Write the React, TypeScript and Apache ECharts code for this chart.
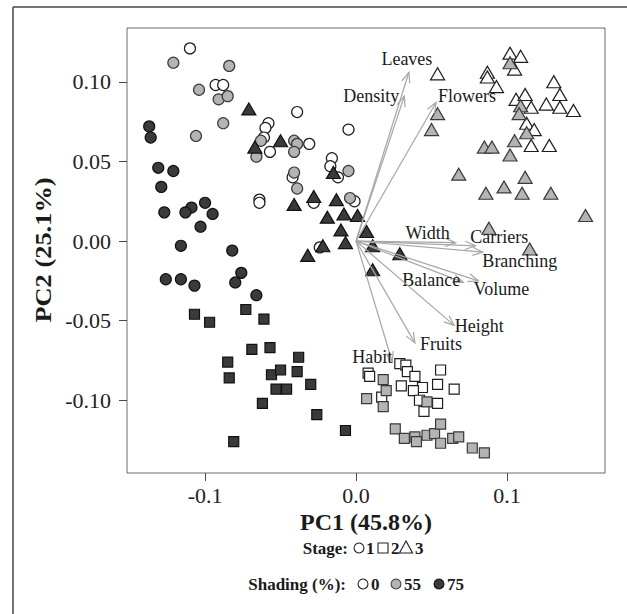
import React, { useEffect, useRef } from "react";
import * as echarts from "echarts";

type P = [number, number];

// ---- Scores (PC1, PC2) by stage and shading ----
const stage1Shade0: P[] = [
  [-0.110, 0.121], [-0.093, 0.098], [-0.088, 0.098], [-0.039, 0.081], [-0.058, 0.074],
  [-0.060, 0.071], [-0.005, 0.070], [-0.061, 0.065], [-0.057, 0.056], [-0.031, 0.061],
  [-0.016, 0.052], [-0.017, 0.047], [-0.012, 0.040], [-0.042, 0.040], [-0.064, 0.026],
  [-0.064, 0.024], [-0.028, 0.024], [-0.001, 0.025], [-0.024, -0.004],
];
const stage1Shade55: P[] = [
  [-0.121, 0.112], [-0.084, 0.110], [-0.104, 0.095], [-0.091, 0.089], [-0.085, 0.091],
  [-0.088, 0.074], [-0.106, 0.066], [-0.063, 0.063], [-0.066, 0.053], [-0.041, 0.063],
  [-0.039, 0.061], [-0.041, 0.056], [-0.005, 0.044], [-0.041, 0.043], [-0.039, 0.033],
  [-0.004, 0.027],
];
const stage1Shade75: P[] = [
  [-0.137, 0.072], [-0.136, 0.065], [-0.131, 0.046], [-0.121, 0.044], [-0.129, 0.034],
  [-0.100, 0.024], [-0.109, 0.021], [-0.113, 0.018], [-0.127, 0.018], [-0.095, 0.017],
  [-0.103, 0.009], [-0.116, -0.003], [-0.082, -0.006], [-0.126, -0.024], [-0.116, -0.024],
  [-0.107, -0.028], [-0.076, -0.020], [-0.080, -0.026], [-0.066, -0.034],
];
const stage2Shade0: P[] = [
  [0.029, -0.077], [0.033, -0.078], [0.034, -0.082], [0.039, -0.085], [0.056, -0.081],
  [0.008, -0.083], [0.009, -0.085], [0.030, -0.091], [0.044, -0.092], [0.054, -0.090],
  [0.065, -0.093], [0.038, -0.094], [0.017, -0.098], [0.042, -0.100], [0.054, -0.102],
  [0.045, -0.107],
];
const stage2Shade55: P[] = [
  [0.018, -0.087], [0.020, -0.094], [0.007, -0.099], [0.047, -0.101], [0.018, -0.104],
  [0.026, -0.118], [0.032, -0.124], [0.039, -0.123], [0.040, -0.126], [0.047, -0.122],
  [0.052, -0.121], [0.056, -0.115], [0.056, -0.127], [0.064, -0.124], [0.068, -0.123],
  [0.077, -0.130], [0.085, -0.133],
];
const stage2Shade75: P[] = [
  [-0.107, -0.046], [-0.097, -0.051], [-0.073, -0.043], [-0.061, -0.049], [-0.069, -0.068],
  [-0.057, -0.067], [-0.038, -0.073], [-0.085, -0.076], [-0.084, -0.086], [-0.056, -0.084],
  [-0.050, -0.081], [-0.039, -0.082], [-0.053, -0.093], [-0.046, -0.093], [-0.030, -0.090],
  [-0.062, -0.102], [-0.026, -0.109], [-0.007, -0.119], [-0.081, -0.126],
];
const stage3Shade0: P[] = [
  [0.054, 0.105], [0.087, 0.106], [0.087, 0.103], [0.102, 0.118], [0.109, 0.116],
  [0.105, 0.108], [0.093, 0.097], [0.131, 0.100], [0.135, 0.092], [0.106, 0.089],
  [0.112, 0.092], [0.116, 0.084], [0.126, 0.086], [0.135, 0.084], [0.144, 0.082],
  [0.113, 0.074], [0.118, 0.070], [0.116, 0.060], [0.128, 0.060],
];
const stage3Shade55: P[] = [
  [0.102, 0.112], [0.109, 0.085], [0.108, 0.080], [0.113, 0.068], [0.054, 0.080],
  [0.050, 0.070], [0.105, 0.063], [0.102, 0.054], [0.085, 0.059], [0.090, 0.059],
  [0.068, 0.042], [0.112, 0.040], [0.086, 0.030], [0.098, 0.034], [0.110, 0.030],
  [0.129, 0.030], [0.152, 0.016], [0.088, 0.008], [0.115, -0.005],
];
const stage3Shade75: P[] = [
  [-0.071, 0.083], [-0.067, 0.059], [-0.050, 0.063], [-0.015, 0.043], [-0.028, 0.028],
  [-0.041, 0.023], [-0.013, 0.026], [-0.019, 0.015], [-0.008, 0.017], [0.001, 0.016],
  [-0.010, 0.007], [0.007, 0.006], [-0.007, -0.001], [-0.022, -0.003], [-0.032, -0.009],
  [0.011, -0.003], [0.029, -0.008], [0.011, -0.018],
];

// ---- Variable loadings ----
const loadingNames = [
  "Leaves", "Density", "Flowers", "Width", "Carriers", "Branching",
  "Balance", "Volume", "Height", "Fruits", "Habit",
];
const loadingPC1 = [0.035, 0.032, 0.053, 0.066, 0.079, 0.084, 0.071, 0.081, 0.065, 0.039, 0.024];
const loadingPC2 = [0.106, 0.091, 0.087, -0.001, -0.003, -0.007, -0.026, -0.025, -0.053, -0.064, -0.076];

// ---- Axis ticks ----
const xTicks = [-0.1, 0, 0.1];
const yTicks = [-0.1, -0.05, 0, 0.05, 0.1];
const xTitle = "PC1 (45.8%)";
const yTitle = "PC2 (25.1%)";

// label placement (pixel offsets from arrow tip) — layout only
const labelOffsetPx: [number, number][] = [
  [-2, -13], [-33, 0], [31, -7], [-28, -10], [24, -9], [37, 9],
  [-32, -2], [23, 8], [25, 1], [26, 1], [-20, -5],
];

const FONT = "'Liberation Serif', 'Times New Roman', serif";
const OPEN = { color: "#ffffff", borderColor: "#1e1e1e" };
const GRAY = { color: "#b4b4b4", borderColor: "#3a3a3a" };
const DARK = { color: "#3a3a3a", borderColor: "#111111" };

function scatter(data: P[], symbol: string, size: number | number[], style: { color: string; borderColor: string }) {
  return {
    type: "scatter",
    data,
    symbol,
    symbolSize: size,
    itemStyle: { color: style.color, borderColor: style.borderColor, borderWidth: 1.2, opacity: 1 },
    emphasis: { disabled: true },
    z: 2,
  };
}

function txt(x: number, y: number, text: string, font: string, align: string, extra: any = {}) {
  return {
    type: "text", x, y, ...extra,
    style: {
      text, font, fill: "#1a1a1a",
      align, verticalAlign: "middle", textAlign: align, textVerticalAlign: "middle",
    },
  };
}

export default function App() {
  const ref = useRef<HTMLDivElement>(null);
  useEffect(() => {
    if (!ref.current) return;
    const chart = echarts.init(ref.current, undefined, { renderer: "svg" });
    const circ = 11;
    const sq = 10;
    const tri = [14, 12];
    const arrowData = loadingNames.map((_, i) => [loadingPC1[i], loadingPC2[i], i]);
    const y1 = 548;
    const y2 = 584;
    const lf = `bold 17px ${FONT}`;
    const tickStyle = { color: "#4a4a4a", width: 1 };
    chart.setOption({
      animation: false,
      backgroundColor: "#ffffff",
      grid: {
        left: 127, top: 28, width: 478, height: 445,
        show: true, borderColor: "#6a6a6a", borderWidth: 1, backgroundColor: "transparent",
      },
      xAxis: {
        type: "value",
        min: -0.1517,
        max: 0.1649,
        splitLine: { show: false },
        axisLine: { show: false, onZero: false },
        axisTick: { show: true, inside: false, length: 8, lineStyle: tickStyle, customValues: xTicks },
        axisLabel: {
          customValues: xTicks,
          formatter: (v: number) => v.toFixed(1),
          fontFamily: "Liberation Serif", fontSize: 22, color: "#222", margin: 11,
        },
      },
      yAxis: {
        type: "value",
        min: -0.1457,
        max: 0.1338,
        splitLine: { show: false },
        axisLine: { show: false, onZero: false },
        axisTick: { show: true, inside: false, length: 8, lineStyle: tickStyle, customValues: yTicks },
        axisLabel: {
          customValues: yTicks,
          formatter: (v: number) => v.toFixed(2),
          fontFamily: "Liberation Serif", fontSize: 22, color: "#222", margin: 16,
        },
      },
      series: [
        scatter(stage1Shade0, "circle", circ, OPEN),
        scatter(stage1Shade55, "circle", circ, GRAY),
        scatter(stage1Shade75, "circle", circ, DARK),
        scatter(stage2Shade0, "rect", sq, OPEN),
        scatter(stage2Shade55, "rect", sq, GRAY),
        scatter(stage2Shade75, "rect", sq, DARK),
        scatter(stage3Shade0, "triangle", tri, OPEN),
        scatter(stage3Shade55, "triangle", tri, GRAY),
        scatter(stage3Shade75, "triangle", tri, DARK),
        {
          type: "custom",
          coordinateSystem: "cartesian2d",
          data: arrowData,
          z: 5,
          silent: true,
          renderItem: (_params: any, api: any) => {
            const i = api.value(2) as number;
            const o = api.coord([0, 0]);
            const t = api.coord([api.value(0), api.value(1)]);
            const ang = Math.atan2(t[1] - o[1], t[0] - o[0]);
            const L = 11;
            const a = 0.38;
            const b1 = [t[0] - L * Math.cos(ang - a), t[1] - L * Math.sin(ang - a)];
            const b2 = [t[0] - L * Math.cos(ang + a), t[1] - L * Math.sin(ang + a)];
            const off = labelOffsetPx[i];
            const stroke = "#a6a6a6";
            return {
              type: "group",
              children: [
                { type: "line", shape: { x1: o[0], y1: o[1], x2: t[0], y2: t[1] }, style: { stroke, lineWidth: 1.2 } },
                { type: "polyline", shape: { points: [b1, t, b2] }, style: { stroke, lineWidth: 1.2, fill: "none" } },
                txt(t[0] + off[0], t[1] + off[1], loadingNames[i], `18px ${FONT}`, "center"),
              ],
            };
          },
        },
      ],
      graphic: [
        { type: "line", shape: { x1: 13, y1: 7, x2: 13, y2: 614 }, style: { stroke: "#444", lineWidth: 1.5 } },
        { type: "line", shape: { x1: 13, y1: 7, x2: 627, y2: 7 }, style: { stroke: "#444", lineWidth: 1.5 } },
        txt(366, 522, xTitle, `bold 24px ${FONT}`, "center"),
        txt(43, 250, yTitle, `bold 24px ${FONT}`, "center", { rotation: Math.PI / 2, scaleX: 1.1 }),
        // legend row 1: stage
        txt(348, y1, "Stage:", lf, "right"),
        { type: "circle", shape: { cx: 359, cy: y1, r: 5 }, style: { fill: "#fff", stroke: "#222", lineWidth: 1.1 } },
        txt(366, y1, "1", lf, "left"),
        { type: "rect", shape: { x: 378, y: y1 - 5, width: 10, height: 10 }, style: { fill: "#fff", stroke: "#222", lineWidth: 1.1 } },
        txt(391, y1, "2", lf, "left"),
        { type: "polygon", shape: { points: [[406, y1 - 7], [399.5, y1 + 5], [412.5, y1 + 5]] }, style: { fill: "#fff", stroke: "#222", lineWidth: 1.1 } },
        txt(415, y1, "3", lf, "left"),
        // legend row 2: shading
        txt(346, y2, "Shading (%):", lf, "right"),
        { type: "circle", shape: { cx: 363, cy: y2, r: 5 }, style: { fill: "#fff", stroke: "#222", lineWidth: 1.1 } },
        txt(371, y2, "0", lf, "left"),
        { type: "circle", shape: { cx: 396, cy: y2, r: 5 }, style: { fill: "#b4b4b4", stroke: "#444", lineWidth: 1.1 } },
        txt(404, y2, "55", lf, "left"),
        { type: "circle", shape: { cx: 439, cy: y2, r: 5 }, style: { fill: "#3a3a3a", stroke: "#111", lineWidth: 1.1 } },
        txt(447, y2, "75", lf, "left"),
      ],
    });
    return () => chart.dispose();
  }, []);
  return (
    <div
      ref={ref}
      style={{ position: "absolute", left: 0, top: 0, width: 627, height: 614, background: "#fff" }}
    />
  );
}
